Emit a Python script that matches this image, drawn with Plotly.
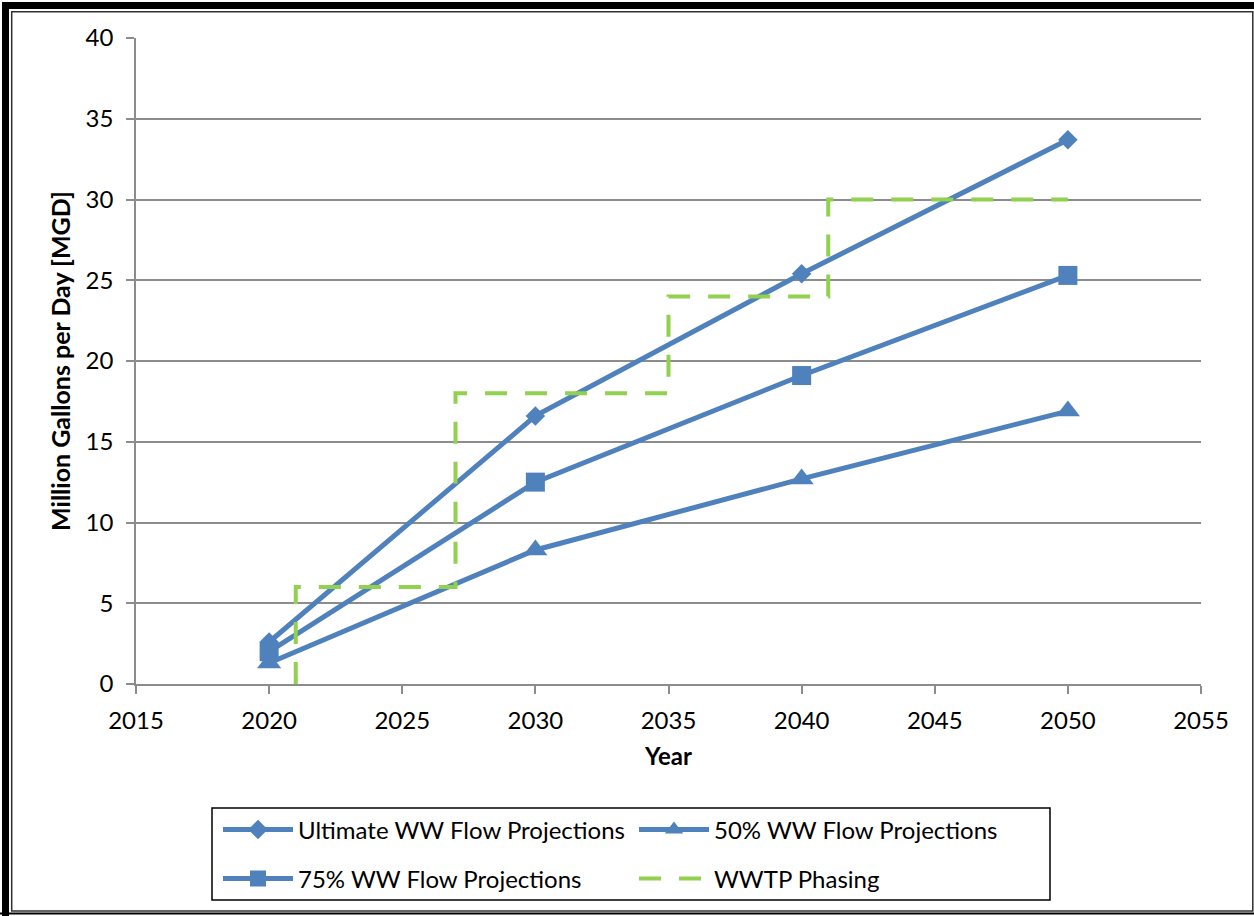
import plotly.graph_objects as go

# ---- data ----
years = [2020, 2030, 2040, 2050]
ultimate = [2.6, 16.6, 25.4, 33.7]
pct50 = [1.3, 8.3, 12.7, 16.9]
pct75 = [2.0, 12.5, 19.1, 25.3]
phase_x = [2021, 2021, 2027, 2027, 2035, 2035, 2041, 2041, 2050]
phase_y = [0, 6, 6, 18, 18, 24, 24, 30, 30]
x_ticks = [2015, 2020, 2025, 2030, 2035, 2040, 2045, 2050, 2055]
y_ticks = [0, 5, 10, 15, 20, 25, 30, 35, 40]

W, H = 1254, 916
L, R, T, B = 136, 1201, 38, 684
PW, PH = R - L, B - T


def px(x):
    return (x - L) / PW


def py(y):
    return (B - y) / PH


BLUE = "#4F81BD"
GREEN = "#92D050"
FONT = "Lato"
FS = 24

fig = go.Figure()
fig.add_trace(go.Scatter(x=years, y=ultimate, name="Ultimate WW Flow Projections",
                         mode="lines+markers", line=dict(color=BLUE, width=5),
                         marker=dict(symbol="diamond", size=15, color=BLUE),
                         legend="legend"))
fig.add_trace(go.Scatter(x=years, y=pct50, name="50% WW Flow Projections",
                         mode="lines+markers", line=dict(color=BLUE, width=5),
                         marker=dict(symbol="triangle-up", size=21, color=BLUE),
                         legend="legend"))
fig.add_trace(go.Scatter(x=years, y=pct75, name="75% WW Flow Projections",
                         mode="lines+markers", line=dict(color=BLUE, width=5),
                         marker=dict(symbol="square", size=19, color=BLUE),
                         legend="legend2"))
fig.add_trace(go.Scatter(x=phase_x, y=phase_y, name="WWTP Phasing",
                         mode="lines", line=dict(color=GREEN, width=4, dash="22px,18px"),
                         legend="legend2"))

axis_common = dict(showline=True, linecolor="#8C8C8C", linewidth=1.5,
                   ticks="outside", ticklen=8, tickcolor="#8C8C8C", tickwidth=1.5,
                   tickfont=dict(family=FONT, size=FS, color="black"),
                   zeroline=False)

fig.update_xaxes(range=[2015, 2055], tickvals=x_ticks, showgrid=False,
                 title=dict(text="<b>Year</b>", font=dict(family=FONT, size=FS, color="black"),
                            standoff=16),
                 ticklabelstandoff=6, **axis_common)
fig.update_yaxes(range=[0, 40], tickvals=y_ticks, showgrid=True, gridcolor="#8C8C8C",
                 gridwidth=1.5,
                 title=dict(text="<b>Million Gallons per Day [MGD]</b>",
                            font=dict(family=FONT, size=25, color="black"), standoff=8),
                 ticklabelstandoff=8, **axis_common)

leg_common = dict(orientation="h", xanchor="left", yanchor="middle",
                  font=dict(family=FONT, size=FS, color="black"),
                  bgcolor="rgba(0,0,0,0)", itemwidth=70,
                  entrywidth=331, entrywidthmode="pixels", tracegroupgap=0)

fig.update_layout(
    width=W, height=H,
    margin=dict(l=L, r=W - R, t=T, b=H - B),
    paper_bgcolor="white", plot_bgcolor="white",
    font=dict(family=FONT),
    legend=dict(x=px(218), y=py(830), **leg_common),
    legend2=dict(x=px(218), y=py(879), **leg_common),
    shapes=[
        # legend border
        dict(type="rect", xref="paper", yref="paper", x0=px(212), x1=px(1050),
             y0=py(808), y1=py(900), line=dict(color="black", width=1.5)),
        # outer thick frame (left & top)
        dict(type="path", xref="paper", yref="paper",
             path=f"M {px(5.5)} {py(930)} L {px(5.5)} {py(5.5)} L {px(1270)} {py(5.5)}",
             line=dict(color="black", width=7)),
        # inner thin frame
        dict(type="rect", xref="paper", yref="paper", x0=px(11.7), x1=px(1252.8),
             y0=py(911), y1=py(11.7), line=dict(color="#303030", width=1.5)),
        # bottom black line
        dict(type="line", xref="paper", yref="paper", x0=px(0), x1=px(1260),
             y0=py(913.5), y1=py(913.5), line=dict(color="black", width=2)),
    ],
)

fig.write_html("out.html")
